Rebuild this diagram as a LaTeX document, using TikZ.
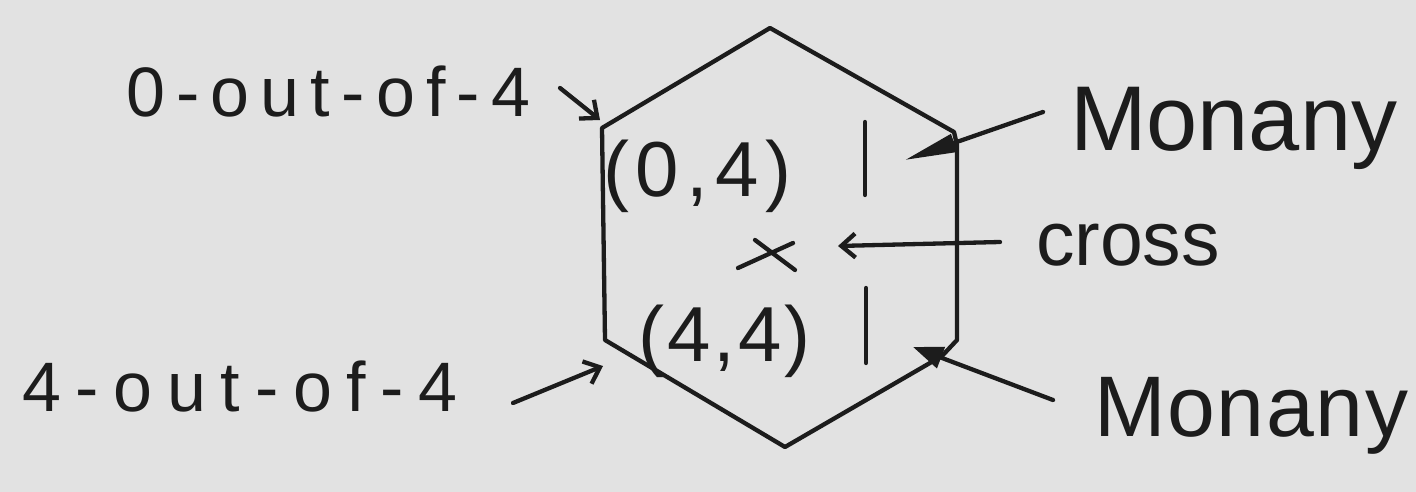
\documentclass[tikz,border=0pt]{standalone}
\usepackage{fontspec}
\setmainfont{Liberation Sans}
\usetikzlibrary{arrows.meta}
\definecolor{paper}{RGB}{226,226,226}
\definecolor{ink}{RGB}{28,28,28}
\begin{document}
\begin{tikzpicture}[x=1pt,y=-1pt,
  line width=4.3pt, line cap=round, line join=round, draw=ink,
  lbl/.style={inner sep=0pt, outer sep=0pt, anchor=base west, text=ink},
  openarrow/.style={-{Straight Barb[length=14pt,width=24pt]}},
  bigfill/.style={-{Triangle[length=52pt,width=18pt]}},
  smallfill/.style={-{Triangle[length=30pt,width=22pt]}}]
\fill[paper] (0,0) rectangle (1416,492);
\useasboundingbox (0,0) rectangle (1416,492);

% hexagon vertices
\coordinate (vT)  at (770,28);
\coordinate (vUR) at (954,132);
\coordinate (vRc) at (957,340);
\coordinate (vLR) at (942,356);
\coordinate (vB)  at (785,447);
\coordinate (vLL) at (605,340);
\coordinate (vUL) at (602,128);
\draw[ink] (vUL) -- (vT) -- (vUR) -- (957,145) -- (vRc) -- (vLR) -- (vB) -- (vLL) -- cycle;

% labels
\node[lbl, font=\fontsize{70}{80}\selectfont\addfontfeatures{LetterSpace=16}] (zero) at (126,117) {0-out-of-4};
\node[lbl, font=\fontsize{70}{80}\selectfont\addfontfeatures{LetterSpace=21}] (four) at (22,411) {4-out-of-4};
\node[lbl, font=\fontsize{78}{90}\selectfont\addfontfeatures{LetterSpace=9}] (p04) at (603,196) {(0,4)};
\node[lbl, font=\fontsize{78}{90}\selectfont\addfontfeatures{LetterSpace=4}] (p44) at (638,361) {(4,4)};
\node[lbl, font=\fontsize{77}{90}\selectfont] (cross) at (1036,265) {cross};
\node[lbl, font=\fontsize{92}{100}\selectfont] (mon1) at (1070,150) {Monany};
\node[lbl, font=\fontsize{86}{96}\selectfont\addfontfeatures{LetterSpace=2}] (mon2) at (1094,436) {Monany};

% tick marks and x mark
\draw[ink] (865,122) -- (865,195);
\draw[ink] (866,288) -- (866,363);
\coordinate (xm) at (767,256);
\draw[ink] (738,268) -- (793,243);
\draw[ink] (755,240) -- (795,270);

% arrows
\coordinate (a0t) at (560,88);  \coordinate (a0h) at (600,120);
\coordinate (a4t) at (513,403); \coordinate (a4h) at (603,366);
\coordinate (act) at (1000,242); \coordinate (ach) at (838,246);
\coordinate (m1t) at (1043,112); \coordinate (m1h) at (905,160);
\coordinate (m2t) at (1053,400); \coordinate (m2h) at (913,347);
\draw[ink, openarrow] (a0t) -- (a0h);
\draw[ink, openarrow] (a4t) -- (a4h);
\draw[ink, openarrow] (act) -- (ach);
\draw[ink, bigfill, fill=ink] (m1t) -- (m1h);
\draw[ink, smallfill, fill=ink] (m2t) -- (m2h);
\end{tikzpicture}
\end{document}
